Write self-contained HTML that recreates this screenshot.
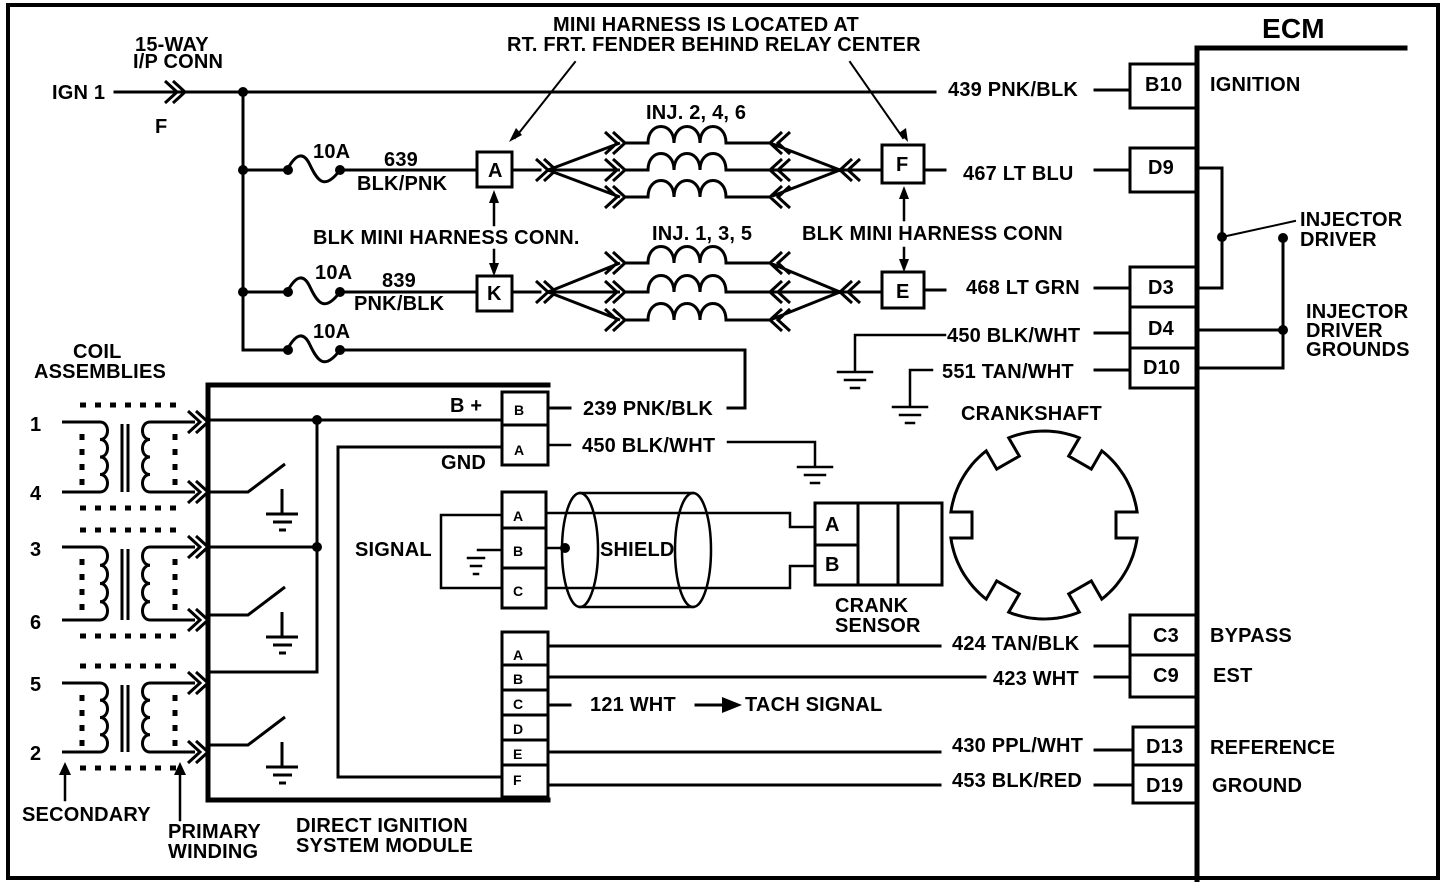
<!DOCTYPE html>
<html><head><meta charset="utf-8"><style>
html,body{margin:0;padding:0;background:#fff;}
svg{display:block;}
text{font-family:"Liberation Sans",sans-serif;font-weight:bold;font-size:20px;letter-spacing:0.2px;fill:#000;}
</style></head><body>
<svg id="s" width="1456" height="882" viewBox="0 0 1456 882" xmlns="http://www.w3.org/2000/svg">
<g fill="none" stroke="#000" stroke-width="3" stroke-linecap="square">
<path d="M8 5 H1438 V878 H8 Z" stroke-width="4"/>
<path d="M1197 880 V48 H1405" stroke-width="5"/>
<rect x="1130" y="64" width="67" height="44"/>
<rect x="1130" y="148" width="67" height="44"/>
<rect x="1130" y="267" width="67" height="40"/>
<rect x="1130" y="307" width="67" height="41"/>
<rect x="1130" y="348" width="67" height="40"/>
<rect x="1130" y="615" width="67" height="40"/>
<rect x="1130" y="655" width="67" height="42"/>
<rect x="1133" y="727" width="64" height="38"/>
<rect x="1133" y="765" width="64" height="38"/>
<path d="M1197 168 H1222 V288 H1197"/>
<path d="M1222 237 L1295 221" stroke-width="2"/>
<path d="M1283 238 V368 H1197 M1197 330 H1283"/>
<path d="M115 92 H935 M1095 90 H1130"/>
<path d="M243 92 V350 H287"/>
<path d="M243 170 H287 M340 170 H477 M512 170 H540"/>
<path d="M243 292 H287 M340 292 H477 M512 292 H540"/>
<path d="M340 350 H745 V408 H728 M548 408 H570"/>
<path d="M287 170 C295 155 303 150 310 165 C318 182 325 190 340 170"/>
<path d="M287 292 C295 277 303 272 310 287 C318 304 325 312 340 292"/>
<path d="M287 350 C295 335 303 330 310 345 C318 362 325 370 340 350"/>
<rect x="477" y="152" width="35" height="35"/>
<rect x="477" y="276" width="35" height="35"/>
<rect x="882" y="145" width="42" height="38"/>
<rect x="882" y="272" width="42" height="36"/>
<path d="M924 170 H945 M1095 170 H1130"/>
<path d="M924 290 H945 M1095 288 H1130"/>
<path d="M1095 333 H1130 M1095 370 H1130"/>
<path d="M945 335 H855 V370 M838 372 H872 M845 380 H865 M851 388 H859" stroke-width="2.5"/>
<path d="M932 370 H910 V405 M893 407 H927 M900 415 H920 M906 423 H914" stroke-width="2.5"/>
<path d="M575 62 L515 138 M850 62 L903 138" stroke-width="2"/>
<path d="M494 225 V195 M494 250 V272 M904 220 V190 M904 248 V268" stroke-width="2.5"/>
<path d="M65 800 V770 M180 820 V770" stroke-width="2.5"/>
<path d="M548 385 H208 V800 H548" stroke-width="5"/>
<rect x="502" y="392" width="46" height="33"/>
<rect x="502" y="425" width="46" height="40"/>
<rect x="502" y="492" width="44" height="36"/>
<rect x="502" y="528" width="44" height="40"/>
<rect x="502" y="568" width="44" height="40"/>
<rect x="502" y="632" width="46" height="33"/>
<rect x="502" y="665" width="46" height="25"/>
<rect x="502" y="690" width="46" height="25"/>
<rect x="502" y="715" width="46" height="25"/>
<rect x="502" y="740" width="46" height="25"/>
<rect x="502" y="765" width="46" height="32"/>
<path d="M208 420 H500 M317 420 V672 H208 M208 547 H317"/>
<path d="M500 447 H338 V777 H500"/>
<path d="M548 445 H570 M728 442 H815 V465 M798 467 H832 M805 475 H825 M811 483 H819" stroke-width="2.5"/>
<path d="M500 515 H441 V588 H500 M500 550 H478" stroke-width="2.5"/>
<path d="M468 558 H484 M471 566 H481 M474 574 H478" stroke-width="2.5"/>
<path d="M546 513 H790 V527 H815 M546 588 H790 V566 H815 M546 548 H565" stroke-width="2.5"/>
<ellipse cx="580" cy="550" rx="18" ry="57" stroke-width="2.5"/>
<ellipse cx="693" cy="550" rx="18" ry="57" stroke-width="2.5"/>
<path d="M580 493 H693 M580 607 H693" stroke-width="2.5"/>
<rect x="815" y="503" width="127" height="82"/>
<path d="M858 503 V585 M898 503 V585 M815 545 H858"/>
<path d="M548 646 H940 M548 677 H985 M548 705 H570 M696 705 H725 M548 752 H940 M548 785 H940"/>
<path d="M1095 646 H1130 M1095 677 H1130 M1095 750 H1133 M1095 785 H1133"/>
</g>
<polygon points="722,697 742,705 722,713" fill="#000"/>
<g fill="#000">
<circle cx="243" cy="92" r="5"/><circle cx="243" cy="170" r="5"/><circle cx="243" cy="292" r="5"/>
<circle cx="288" cy="170" r="5"/><circle cx="340" cy="170" r="5"/>
<circle cx="288" cy="292" r="5"/><circle cx="340" cy="292" r="5"/>
<circle cx="288" cy="350" r="5"/><circle cx="340" cy="350" r="5"/>
<circle cx="1222" cy="237" r="5"/><circle cx="1283" cy="238" r="5"/><circle cx="1283" cy="330" r="5"/>
<circle cx="317" cy="420" r="5"/><circle cx="317" cy="547" r="5"/>
<circle cx="565" cy="548" r="5"/>
<polygon points="509,142 516,128 522,135"/>
<polygon points="908,142 899,133 906,128"/>
<polygon points="494,190 489,203 499,203"/>
<polygon points="494,276 489,263 499,263"/>
<polygon points="904,186 899,199 909,199"/>
<polygon points="904,272 899,259 909,259"/>
<polygon points="65,762 59,775 71,775"/>
<polygon points="180,762 174,775 186,775"/>
</g>
<g id="dyn" fill="none" stroke="#000" stroke-width="3"></g>
<g id="dots" fill="none" stroke="#000" stroke-width="5" stroke-dasharray="6 9"></g>
<text x="52" y="99">IGN 1</text>
<text x="135" y="51">15-WAY</text>
<text x="133" y="68">I/P CONN</text>
<text x="155" y="133">F</text>
<text x="553" y="31">MINI HARNESS IS LOCATED  AT</text>
<text x="507" y="51">RT. FRT. FENDER BEHIND RELAY CENTER</text>
<text x="1262" y="38" style="font-size:28px">ECM</text>
<text x="948" y="96">439 PNK/BLK</text>
<text x="1145" y="91">B10</text>
<text x="1210" y="91">IGNITION</text>
<text x="313" y="158">10A</text>
<text x="384" y="166">639</text>
<text x="357" y="190">BLK/PNK</text>
<text x="488" y="177">A</text>
<text x="896" y="171">F</text>
<text x="646" y="119">INJ. 2, 4, 6</text>
<text x="963" y="180">467 LT BLU</text>
<text x="1148" y="174">D9</text>
<text x="1300" y="226">INJECTOR</text>
<text x="1300" y="246">DRIVER</text>
<text x="313" y="244">BLK MINI HARNESS CONN.</text>
<text x="652" y="240">INJ. 1, 3, 5</text>
<text x="802" y="240">BLK MINI HARNESS CONN</text>
<text x="315" y="279">10A</text>
<text x="382" y="287">839</text>
<text x="354" y="310">PNK/BLK</text>
<text x="487" y="300">K</text>
<text x="896" y="298">E</text>
<text x="966" y="294">468 LT GRN</text>
<text x="1148" y="294">D3</text>
<text x="1148" y="335">D4</text>
<text x="1143" y="374">D10</text>
<text x="947" y="342">450 BLK/WHT</text>
<text x="942" y="378">551 TAN/WHT</text>
<text x="1306" y="318">INJECTOR</text>
<text x="1306" y="337">DRIVER</text>
<text x="1306" y="356">GROUNDS</text>
<text x="313" y="338">10A</text>
<text x="73" y="358">COIL</text>
<text x="34" y="378">ASSEMBLIES</text>
<text x="450" y="412">B +</text>
<text x="514" y="415" style="font-size:14px">B</text>
<text x="514" y="455" style="font-size:14px">A</text>
<text x="583" y="415">239 PNK/BLK</text>
<text x="582" y="452">450  BLK/WHT</text>
<text x="441" y="469">GND</text>
<text x="961" y="420">CRANKSHAFT</text>
<text x="355" y="556">SIGNAL</text>
<text x="513" y="521" style="font-size:14px">A</text>
<text x="513" y="556" style="font-size:14px">B</text>
<text x="513" y="596" style="font-size:14px">C</text>
<text x="600" y="556">SHIELD</text>
<text x="825" y="531">A</text>
<text x="825" y="571">B</text>
<text x="835" y="612">CRANK</text>
<text x="835" y="632">SENSOR</text>
<text x="30" y="431">1</text>
<text x="30" y="500">4</text>
<text x="30" y="556">3</text>
<text x="30" y="629">6</text>
<text x="30" y="691">5</text>
<text x="30" y="760">2</text>
<text x="513" y="660" style="font-size:14px">A</text>
<text x="513" y="684" style="font-size:14px">B</text>
<text x="513" y="709" style="font-size:14px">C</text>
<text x="513" y="734" style="font-size:14px">D</text>
<text x="513" y="759" style="font-size:14px">E</text>
<text x="513" y="785" style="font-size:14px">F</text>
<text x="952" y="650">424 TAN/BLK</text>
<text x="993" y="685">423 WHT</text>
<text x="590" y="711">121 WHT</text>
<text x="745" y="711">TACH SIGNAL</text>
<text x="952" y="752">430 PPL/WHT</text>
<text x="952" y="787">453 BLK/RED</text>
<text x="1153" y="642">C3</text>
<text x="1153" y="682">C9</text>
<text x="1146" y="753">D13</text>
<text x="1146" y="792">D19</text>
<text x="1210" y="642">BYPASS</text>
<text x="1213" y="682">EST</text>
<text x="1210" y="754">REFERENCE</text>
<text x="1212" y="792">GROUND</text>
<text x="22" y="821">SECONDARY</text>
<text x="168" y="838">PRIMARY</text>
<text x="168" y="858">WINDING</text>
<text x="296" y="832">DIRECT IGNITION</text>
<text x="296" y="852">SYSTEM MODULE</text>
</svg>
<script>
(function(){
var g=document.getElementById('dyn'),d='',dd='';
function L(a){d+=a+' ';}
function chev(x,y,dir){for(var k=0;k<2;k++){var t=x-dir*8*k;L('M'+(t-dir*12)+' '+(y-11)+' L'+t+' '+y+' L'+(t-dir*12)+' '+(y+11));}}
chev(185,92,1);
function inj(ys,yc){
 var xl=548,xr=840;
 chev(xl+8,yc,1);chev(xr,yc,-1);
 for(var i=0;i<3;i++){var y=ys[i];
  L('M'+xl+' '+yc+' L'+620+' '+y);chev(625,y,1);
  var p='M625 '+y+' H648 ';var x=648;
  for(var j=0;j<3;j++){p+='C'+x+' '+(y-22)+' '+(x+26)+' '+(y-22)+' '+(x+26)+' '+y+' ';x+=26;}
  p+='H740 L770 '+y;L(p);
  chev(770,y,-1);L('M770 '+y+' L'+xr+' '+yc);
 }
 L('M'+xr+' '+yc+' H882');
}
inj([143,170,197],170);inj([263,292,320],292);
function icoil(y1,y2){
 var top=y1-17,bot=y2+16;
 L('M62 '+y1+' H100');var p='M100 '+y1+' ';var n=4,h=(y2-y1)/n;
 for(var j=0;j<n;j++){var a=y1+h*j;p+='C110 '+a+' 110 '+(a+h)+' 100 '+(a+h)+' ';}
 L(p);L('M100 '+y2+' H62');
 L('M122 '+(y1+2)+' V'+y2+' M128 '+(y1+2)+' V'+y2);
 p='M195 '+y1+' H150 ';
 for(var j=0;j<n;j++){var a=y1+h*j;p+='C140 '+a+' 140 '+(a+h)+' 150 '+(a+h)+' ';}
 L(p+' H195');
 chev(208,y1,1);chev(208,y2,1);
 dd+='M80 '+top+' H178 M80 '+bot+' H178 M82 '+(y1+12)+' V'+(y2-4)+' M175 '+(y1+12)+' V'+(y2-4)+' ';
}
icoil(422,492);icoil(547,620);icoil(683,752);
[492,615,745].forEach(function(y){
 L('M208 '+y+' H248 L285 '+(y-28));
 L('M282 '+(y-3)+' V'+(y+22)+' M266 '+(y+22)+' H298 M273 '+(y+30)+' H292 M279 '+(y+38)+' H286');
});
var cx=1044,cy=525,R=94,r=72,w=13,dl=Math.asin(w/R)*180/Math.PI,pts=[];
for(var k=0;k<6;k++){var a0=k*60;
 for(var a=a0+dl;a<a0+60-dl;a+=3){var t=a*Math.PI/180;pts.push([cx+R*Math.cos(t),cy-R*Math.sin(t)]);}
 var t1=(a0+60-dl)*Math.PI/180;pts.push([cx+R*Math.cos(t1),cy-R*Math.sin(t1)]);
 var ac=(a0+60)*Math.PI/180;
 var ux=Math.cos(ac),uy=-Math.sin(ac),vx=Math.sin(ac),vy=Math.cos(ac);
 pts.push([cx+r*ux+w*vx,cy+r*uy+w*vy]);
 pts.push([cx+r*ux-w*vx,cy+r*uy-w*vy]);
}
var pd='M';pts.forEach(function(p,i){pd+=(i?' L':'')+p[0].toFixed(1)+' '+p[1].toFixed(1);});
L(pd+' Z');
var path=document.createElementNS('http://www.w3.org/2000/svg','path');path.setAttribute('d',d);g.appendChild(path);
var p2=document.createElementNS('http://www.w3.org/2000/svg','path');p2.setAttribute('d',dd);document.getElementById('dots').appendChild(p2);
})();
</script>
</body></html>
